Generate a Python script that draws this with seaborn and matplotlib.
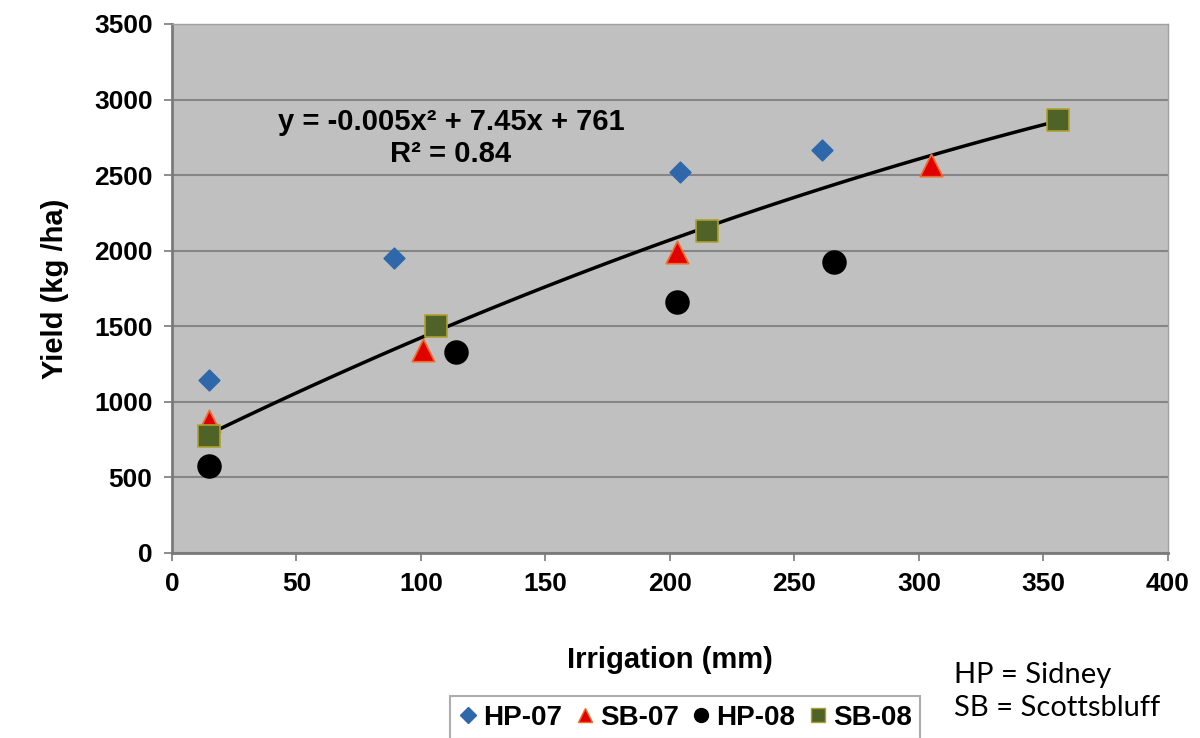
import numpy as np
import pandas as pd
import matplotlib.pyplot as plt
import seaborn as sns
from matplotlib.lines import Line2D

# irrigation (mm) and yield (kg/ha)
hp07_x = [15, 89, 204, 261]
hp07_y = [1145, 1950, 2520, 2667]
sb07_x = [15, 101, 203, 305]
sb07_y = [875, 1343, 1992, 2568]
hp08_x = [15, 114, 203, 266]
hp08_y = [578, 1330, 1658, 1928]
sb08_x = [15, 106, 215, 356]
sb08_y = [774, 1500, 2131, 2866]

series = ['HP-07', 'SB-07', 'HP-08', 'SB-08']
xs = [hp07_x, sb07_x, hp08_x, sb08_x]
ys = [hp07_y, sb07_y, hp08_y, sb08_y]

df = pd.concat([pd.DataFrame({'irr': x, 'yld': y, 'grupo': s})
                for s, x, y in zip(series, xs, ys)], ignore_index=True)

cores = {'HP-07': '#2F68AA', 'SB-07': '#E00000', 'HP-08': '#000000', 'SB-08': '#4F6228'}
bordas = {'HP-07': '#2F68AA', 'SB-07': '#F06A2A', 'HP-08': '#000000', 'SB-08': '#B0A030'}
marcadores = {'HP-07': 'D', 'SB-07': '^', 'HP-08': 'o', 'SB-08': 's'}
tamanhos = {'HP-07': 110, 'SB-07': 260, 'HP-08': 270, 'SB-08': 250}

sns.set_style('white')
plt.rcParams['font.family'] = ['Liberation Sans', 'DejaVu Sans']
plt.rcParams['text.color'] = 'black'
plt.rcParams['axes.labelcolor'] = 'black'
plt.rcParams['xtick.color'] = 'black'
plt.rcParams['ytick.color'] = 'black'

fig = plt.figure(figsize=(12, 7.38), dpi=100)
ax = fig.add_axes([0.1433, 0.2507, 0.83, 0.7168])
ax.set_facecolor('#C0C0C0')

# linha de tendencia (quadratica)
sns.regplot(data=df[df['grupo'] == 'SB-08'], x='irr', y='yld', order=2, ci=None,
            scatter=False, truncate=True, color='black', line_kws={'lw': 2.5, 'zorder': 2}, ax=ax)

for s in series:
    sns.scatterplot(data=df[df['grupo'] == s], x='irr', y='yld', marker=marcadores[s],
                    s=tamanhos[s], color=cores[s], edgecolor=bordas[s], linewidth=1.2,
                    zorder=3, ax=ax, legend=False)

ax.set_xlim(0, 400)
ax.set_ylim(0, 3500)
ax.set_xticks(range(0, 401, 50))
ax.set_yticks(range(0, 3501, 500))
ax.yaxis.grid(True, color='#858585', lw=1.5)
ax.set_axisbelow(True)
for sp in ['left', 'bottom']:
    ax.spines[sp].set_color('#7A7A7A')
    ax.spines[sp].set_linewidth(2)
for sp in ['top', 'right']:
    ax.spines[sp].set_color('#A0A0A0')
    ax.spines[sp].set_linewidth(1)
ax.tick_params(axis='both', which='major', length=6, width=1.2, color='#7A7A7A',
               labelsize=19, direction='out', bottom=True, left=True, pad=8)
for lab in ax.get_xticklabels() + ax.get_yticklabels():
    lab.set_fontweight('bold')

ax.set_xlabel('Irrigation (mm)', fontsize=21, fontweight='bold', labelpad=36)
ax.set_ylabel('Yield (kg /ha)', fontsize=21, fontweight='bold', labelpad=18)

ax.text(112, 2850, 'y = -0.005x² + 7.45x + 761', ha='center', va='center',
        fontsize=21, fontweight='bold')
ax.text(112, 2640, 'R² = 0.84', ha='center', va='center', fontsize=21, fontweight='bold')

handles = [Line2D([], [], ls='none', marker=marcadores[s], color=cores[s],
                  markeredgecolor=bordas[s], markersize=10 if s != 'HP-07' else 8)
           for s in series]
leg = fig.legend(handles, series, loc='lower center', bbox_to_anchor=(0.571, -0.02), ncol=4,
                 frameon=True, fancybox=False, handlelength=0.7, handletextpad=0.2,
                 columnspacing=0.45, borderpad=0.3, prop={'weight': 'bold', 'size': 20})
leg.get_frame().set_edgecolor('#999999')
leg.get_frame().set_linewidth(1.5)

fig.text(0.795, 0.075, 'HP = Sidney', fontsize=21, family=['Lato', 'DejaVu Sans'])
fig.text(0.795, 0.03, 'SB = Scottsbluff', fontsize=21, family=['Lato', 'DejaVu Sans'])

fig.savefig('out.png', dpi=100)
